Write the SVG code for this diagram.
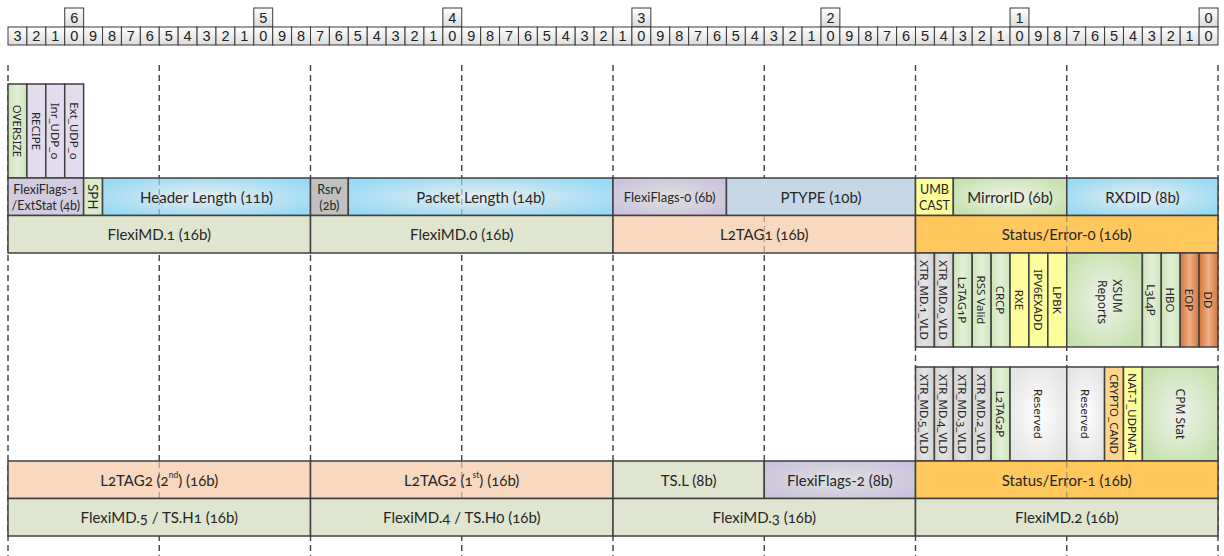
<svg xmlns="http://www.w3.org/2000/svg" width="1224" height="556" viewBox="0 0 1224 556">
<defs>
<linearGradient id="gRuler" x1="0" y1="0" x2="0" y2="1"><stop offset="0" stop-color="#ffffff"/><stop offset="1" stop-color="#dcdcdc"/></linearGradient>
<radialGradient id="gBlue" cx="0.5" cy="0.5" r="0.6"><stop offset="0" stop-color="#e9edef"/><stop offset="1" stop-color="#98daf5"/></radialGradient>
<radialGradient id="gGreen" cx="0.5" cy="0.5" r="0.6"><stop offset="0" stop-color="#eef1ea"/><stop offset="1" stop-color="#c6e2ae"/></radialGradient>
<radialGradient id="gLav" cx="0.5" cy="0.5" r="0.6"><stop offset="0" stop-color="#e0e0e0"/><stop offset="1" stop-color="#cbc3dd"/></radialGradient>
<radialGradient id="gWhite" cx="0.5" cy="0.5" r="0.6"><stop offset="0" stop-color="#ffffff"/><stop offset="1" stop-color="#e4e4e4"/></radialGradient>
<linearGradient id="gBrown" x1="0" y1="0" x2="1" y2="0"><stop offset="0" stop-color="#d4743a"/><stop offset="0.5" stop-color="#f0b084"/><stop offset="1" stop-color="#d4743a"/></linearGradient>
<linearGradient id="gGrey" x1="0" y1="0" x2="1" y2="0"><stop offset="0" stop-color="#d2d2d2"/><stop offset="0.5" stop-color="#e4e4e4"/><stop offset="1" stop-color="#d2d2d2"/></linearGradient>
<linearGradient id="gGreenL" x1="0" y1="0" x2="1" y2="0"><stop offset="0" stop-color="#cde6b8"/><stop offset="0.5" stop-color="#e2efd6"/><stop offset="1" stop-color="#cde6b8"/></linearGradient>
</defs>
<style>
.rc{fill:url(#gRuler);stroke:#3a3a3a;stroke-width:1}
.rt{font-family:"Liberation Sans",Arial,sans-serif;font-size:14.5px;fill:#222;text-anchor:middle;dominant-baseline:central}
.b{stroke:#404040;stroke-width:1.5}
.t{font-family:Lato,"Noto Sans",sans-serif;font-size:15px;fill:#262626;text-anchor:middle;dominant-baseline:central;font-variant-numeric:oldstyle-nums}
.t.s{font-size:12.5px}
.t.m{font-size:13px}
.v{font-family:"Noto Sans",sans-serif;font-size:11.5px;fill:#262626;text-anchor:middle;dominant-baseline:central;font-variant-numeric:oldstyle-nums}
.v.w{font-size:12px}
.v.sph{font-size:13.5px}
.sup{font-size:8.5px}
.guide{stroke:#404040;stroke-width:1.4;stroke-dasharray:6 4;fill:none}
.ov{stroke:#6a6a6a;stroke-width:1.2;stroke-dasharray:6 4;opacity:0.55}
.green{fill:url(#gGreenL)}
.lav{fill:#e3dcef}
.yel{fill:#fdfd9c}
.grey{fill:url(#gGrey)}
.md{fill:#dfe5cf}
.l2{fill:#f8d8be}
.st{fill:#ffc75c}
</style>

<g id="ruler">
<g id="ruler-top">
<rect class="rc" x="64.72" y="8" width="18.91" height="19"/><text class="rt" x="74.17" y="17.5">6</text>
<rect class="rc" x="253.78" y="8" width="18.91" height="19"/><text class="rt" x="263.23" y="17.5">5</text>
<rect class="rc" x="442.84" y="8" width="18.91" height="19"/><text class="rt" x="452.30" y="17.5">4</text>
<rect class="rc" x="631.91" y="8" width="18.91" height="19"/><text class="rt" x="641.36" y="17.5">3</text>
<rect class="rc" x="820.97" y="8" width="18.91" height="19"/><text class="rt" x="830.42" y="17.5">2</text>
<rect class="rc" x="1010.03" y="8" width="18.91" height="19"/><text class="rt" x="1019.48" y="17.5">1</text>
<rect class="rc" x="1199.09" y="8" width="18.91" height="19"/><text class="rt" x="1208.55" y="17.5">0</text>
</g>
<g id="ruler-cells">
<rect class="rc" x="8.00" y="27" width="18.91" height="18"/><text class="rt" x="17.45" y="36">3</text>
<rect class="rc" x="26.91" y="27" width="18.91" height="18"/><text class="rt" x="36.36" y="36">2</text>
<rect class="rc" x="45.81" y="27" width="18.91" height="18"/><text class="rt" x="55.27" y="36">1</text>
<rect class="rc" x="64.72" y="27" width="18.91" height="18"/><text class="rt" x="74.17" y="36">0</text>
<rect class="rc" x="83.63" y="27" width="18.91" height="18"/><text class="rt" x="93.08" y="36">9</text>
<rect class="rc" x="102.53" y="27" width="18.91" height="18"/><text class="rt" x="111.98" y="36">8</text>
<rect class="rc" x="121.44" y="27" width="18.91" height="18"/><text class="rt" x="130.89" y="36">7</text>
<rect class="rc" x="140.34" y="27" width="18.91" height="18"/><text class="rt" x="149.80" y="36">6</text>
<rect class="rc" x="159.25" y="27" width="18.91" height="18"/><text class="rt" x="168.70" y="36">5</text>
<rect class="rc" x="178.16" y="27" width="18.91" height="18"/><text class="rt" x="187.61" y="36">4</text>
<rect class="rc" x="197.06" y="27" width="18.91" height="18"/><text class="rt" x="206.52" y="36">3</text>
<rect class="rc" x="215.97" y="27" width="18.91" height="18"/><text class="rt" x="225.42" y="36">2</text>
<rect class="rc" x="234.88" y="27" width="18.91" height="18"/><text class="rt" x="244.33" y="36">1</text>
<rect class="rc" x="253.78" y="27" width="18.91" height="18"/><text class="rt" x="263.23" y="36">0</text>
<rect class="rc" x="272.69" y="27" width="18.91" height="18"/><text class="rt" x="282.14" y="36">9</text>
<rect class="rc" x="291.59" y="27" width="18.91" height="18"/><text class="rt" x="301.05" y="36">8</text>
<rect class="rc" x="310.50" y="27" width="18.91" height="18"/><text class="rt" x="319.95" y="36">7</text>
<rect class="rc" x="329.41" y="27" width="18.91" height="18"/><text class="rt" x="338.86" y="36">6</text>
<rect class="rc" x="348.31" y="27" width="18.91" height="18"/><text class="rt" x="357.77" y="36">5</text>
<rect class="rc" x="367.22" y="27" width="18.91" height="18"/><text class="rt" x="376.67" y="36">4</text>
<rect class="rc" x="386.13" y="27" width="18.91" height="18"/><text class="rt" x="395.58" y="36">3</text>
<rect class="rc" x="405.03" y="27" width="18.91" height="18"/><text class="rt" x="414.48" y="36">2</text>
<rect class="rc" x="423.94" y="27" width="18.91" height="18"/><text class="rt" x="433.39" y="36">1</text>
<rect class="rc" x="442.84" y="27" width="18.91" height="18"/><text class="rt" x="452.30" y="36">0</text>
<rect class="rc" x="461.75" y="27" width="18.91" height="18"/><text class="rt" x="471.20" y="36">9</text>
<rect class="rc" x="480.66" y="27" width="18.91" height="18"/><text class="rt" x="490.11" y="36">8</text>
<rect class="rc" x="499.56" y="27" width="18.91" height="18"/><text class="rt" x="509.02" y="36">7</text>
<rect class="rc" x="518.47" y="27" width="18.91" height="18"/><text class="rt" x="527.92" y="36">6</text>
<rect class="rc" x="537.38" y="27" width="18.91" height="18"/><text class="rt" x="546.83" y="36">5</text>
<rect class="rc" x="556.28" y="27" width="18.91" height="18"/><text class="rt" x="565.73" y="36">4</text>
<rect class="rc" x="575.19" y="27" width="18.91" height="18"/><text class="rt" x="584.64" y="36">3</text>
<rect class="rc" x="594.09" y="27" width="18.91" height="18"/><text class="rt" x="603.55" y="36">2</text>
<rect class="rc" x="613.00" y="27" width="18.91" height="18"/><text class="rt" x="622.45" y="36">1</text>
<rect class="rc" x="631.91" y="27" width="18.91" height="18"/><text class="rt" x="641.36" y="36">0</text>
<rect class="rc" x="650.81" y="27" width="18.91" height="18"/><text class="rt" x="660.27" y="36">9</text>
<rect class="rc" x="669.72" y="27" width="18.91" height="18"/><text class="rt" x="679.17" y="36">8</text>
<rect class="rc" x="688.63" y="27" width="18.91" height="18"/><text class="rt" x="698.08" y="36">7</text>
<rect class="rc" x="707.53" y="27" width="18.91" height="18"/><text class="rt" x="716.98" y="36">6</text>
<rect class="rc" x="726.44" y="27" width="18.91" height="18"/><text class="rt" x="735.89" y="36">5</text>
<rect class="rc" x="745.34" y="27" width="18.91" height="18"/><text class="rt" x="754.80" y="36">4</text>
<rect class="rc" x="764.25" y="27" width="18.91" height="18"/><text class="rt" x="773.70" y="36">3</text>
<rect class="rc" x="783.16" y="27" width="18.91" height="18"/><text class="rt" x="792.61" y="36">2</text>
<rect class="rc" x="802.06" y="27" width="18.91" height="18"/><text class="rt" x="811.52" y="36">1</text>
<rect class="rc" x="820.97" y="27" width="18.91" height="18"/><text class="rt" x="830.42" y="36">0</text>
<rect class="rc" x="839.88" y="27" width="18.91" height="18"/><text class="rt" x="849.33" y="36">9</text>
<rect class="rc" x="858.78" y="27" width="18.91" height="18"/><text class="rt" x="868.23" y="36">8</text>
<rect class="rc" x="877.69" y="27" width="18.91" height="18"/><text class="rt" x="887.14" y="36">7</text>
<rect class="rc" x="896.59" y="27" width="18.91" height="18"/><text class="rt" x="906.05" y="36">6</text>
<rect class="rc" x="915.50" y="27" width="18.91" height="18"/><text class="rt" x="924.95" y="36">5</text>
<rect class="rc" x="934.41" y="27" width="18.91" height="18"/><text class="rt" x="943.86" y="36">4</text>
<rect class="rc" x="953.31" y="27" width="18.91" height="18"/><text class="rt" x="962.77" y="36">3</text>
<rect class="rc" x="972.22" y="27" width="18.91" height="18"/><text class="rt" x="981.67" y="36">2</text>
<rect class="rc" x="991.13" y="27" width="18.91" height="18"/><text class="rt" x="1000.58" y="36">1</text>
<rect class="rc" x="1010.03" y="27" width="18.91" height="18"/><text class="rt" x="1019.48" y="36">0</text>
<rect class="rc" x="1028.94" y="27" width="18.91" height="18"/><text class="rt" x="1038.39" y="36">9</text>
<rect class="rc" x="1047.84" y="27" width="18.91" height="18"/><text class="rt" x="1057.30" y="36">8</text>
<rect class="rc" x="1066.75" y="27" width="18.91" height="18"/><text class="rt" x="1076.20" y="36">7</text>
<rect class="rc" x="1085.66" y="27" width="18.91" height="18"/><text class="rt" x="1095.11" y="36">6</text>
<rect class="rc" x="1104.56" y="27" width="18.91" height="18"/><text class="rt" x="1114.02" y="36">5</text>
<rect class="rc" x="1123.47" y="27" width="18.91" height="18"/><text class="rt" x="1132.92" y="36">4</text>
<rect class="rc" x="1142.38" y="27" width="18.91" height="18"/><text class="rt" x="1151.83" y="36">3</text>
<rect class="rc" x="1161.28" y="27" width="18.91" height="18"/><text class="rt" x="1170.73" y="36">2</text>
<rect class="rc" x="1180.19" y="27" width="18.91" height="18"/><text class="rt" x="1189.64" y="36">1</text>
<rect class="rc" x="1199.09" y="27" width="18.91" height="18"/><text class="rt" x="1208.55" y="36">0</text>
</g>
</g>

<g id="guides">
<line class="guide" x1="8" y1="65" x2="8" y2="556"/>
<line class="guide" x1="159.25" y1="65" x2="159.25" y2="556"/>
<line class="guide" x1="310.5" y1="65" x2="310.5" y2="556"/>
<line class="guide" x1="461.75" y1="65" x2="461.75" y2="556"/>
<line class="guide" x1="613" y1="65" x2="613" y2="556"/>
<line class="guide" x1="764.25" y1="65" x2="764.25" y2="556"/>
<line class="guide" x1="915.5" y1="65" x2="915.5" y2="556"/>
<line class="guide" x1="1066.75" y1="65" x2="1066.75" y2="556"/>
<line class="guide" x1="1218" y1="65" x2="1218" y2="556"/>
</g>

<!-- top-left flag bits -->
<g id="oversize"><rect class="b green" x="8" y="84" width="18.91" height="94"/><text class="v" transform="translate(17.45,131) rotate(90)">OVERSIZE</text></g>
<g id="recipe"><rect class="b lav" x="26.91" y="84" width="18.91" height="94"/><text class="v" transform="translate(36.36,131) rotate(90)">RECIPE</text></g>
<g id="inr-udp"><rect class="b lav" x="45.81" y="84" width="18.91" height="94"/><text class="v" transform="translate(55.27,131) rotate(90)">Inr_UDP_o</text></g>
<g id="ext-udp"><rect class="b lav" x="64.72" y="84" width="18.91" height="94"/><text class="v" transform="translate(74.17,131) rotate(90)">Ext_UDP_o</text></g>

<!-- row A -->
<g id="flexiflags1"><rect class="b" fill="#d3cce0" x="8" y="178" width="75.63" height="37.5"/><text class="t s" x="45.8" y="189.5">FlexiFlags-1</text><text class="t s" x="45.8" y="205">/ExtStat (4b)</text></g>
<g id="sph"><rect class="b" fill="#dcecca" x="83.63" y="178" width="18.91" height="37.5"/><text class="v sph" transform="translate(93.08,196.75) rotate(90)">SPH</text></g>
<g id="header-length"><rect class="b" fill="url(#gBlue)" x="102.53" y="178" width="207.97" height="37.5"/><text class="t" x="206.5" y="196.75">Header Length (11b)</text></g>
<g id="rsrv"><rect class="b" fill="#c0c0c0" x="310.5" y="178" width="37.81" height="37.5"/><text class="t s" x="329.4" y="189.5">Rsrv</text><text class="t s" x="329.4" y="205">(2b)</text></g>
<g id="packet-length"><rect class="b" fill="url(#gBlue)" x="348.31" y="178" width="264.69" height="37.5"/><text class="t" x="480.65" y="196.75">Packet Length (14b)</text></g>
<g id="flexiflags0"><rect class="b" fill="url(#gLav)" x="613" y="178" width="113.44" height="37.5"/><text class="t m" x="669.7" y="196.75">FlexiFlags-0 (6b)</text></g>
<g id="ptype"><rect class="b" fill="#c6d7e8" x="726.44" y="178" width="189.06" height="37.5"/><text class="t" x="820.95" y="196.75">PTYPE (10b)</text></g>
<g id="umbcast"><rect class="b yel" x="915.5" y="178" width="37.81" height="37.5"/><text class="t s" x="934.4" y="189.5">UMB</text><text class="t s" x="934.4" y="205">CAST</text></g>
<g id="mirrorid"><rect class="b" fill="url(#gGreen)" x="953.31" y="178" width="113.44" height="37.5"/><text class="t" x="1010" y="196.75">MirrorID (6b)</text></g>
<g id="rxdid"><rect class="b" fill="url(#gBlue)" x="1066.75" y="178" width="151.25" height="37.5"/><text class="t" x="1142.4" y="196.75">RXDID (8b)</text></g>

<!-- row B -->
<g id="flexi-md1"><rect class="b md" x="8" y="215.5" width="302.5" height="37.5"/><text class="t" x="159.25" y="234.25">FlexiMD.1 (16b)</text></g>
<g id="flexi-md0"><rect class="b md" x="310.5" y="215.5" width="302.5" height="37.5"/><text class="t" x="461.75" y="234.25">FlexiMD.0 (16b)</text></g>
<g id="l2tag1"><rect class="b l2" x="613" y="215.5" width="302.5" height="37.5"/><text class="t" x="764.25" y="234.25">L2TAG1 (16b)</text></g>
<g id="status-error0"><rect class="b st" x="915.5" y="215.5" width="302.5" height="37.5"/><text class="t" x="1066.75" y="234.25">Status/Error-0 (16b)</text></g>

<!-- status-0 bits -->
<g id="s0-xtr1"><rect class="b grey" x="915.5" y="253" width="18.91" height="94"/><text class="v" transform="translate(924.95,300) rotate(90)">XTR_MD.1_VLD</text></g>
<g id="s0-xtr0"><rect class="b grey" x="934.41" y="253" width="18.91" height="94"/><text class="v" transform="translate(943.86,300) rotate(90)">XTR_MD.0_VLD</text></g>
<g id="s0-l2tag1p"><rect class="b green" x="953.31" y="253" width="18.91" height="94"/><text class="v" transform="translate(962.77,300) rotate(90)">L2TAG1P</text></g>
<g id="s0-rss"><rect class="b green" x="972.22" y="253" width="18.91" height="94"/><text class="v" transform="translate(981.67,300) rotate(90)">RSS Valid</text></g>
<g id="s0-crcp"><rect class="b green" x="991.13" y="253" width="18.91" height="94"/><text class="v" transform="translate(1000.58,300) rotate(90)">CRCP</text></g>
<g id="s0-rxe"><rect class="b yel" x="1010.03" y="253" width="18.91" height="94"/><text class="v" transform="translate(1019.48,300) rotate(90)">RXE</text></g>
<g id="s0-ipv6"><rect class="b yel" x="1028.94" y="253" width="18.91" height="94"/><text class="v" transform="translate(1038.39,300) rotate(90)">IPV6EXADD</text></g>
<g id="s0-lpbk"><rect class="b yel" x="1047.84" y="253" width="18.91" height="94"/><text class="v" transform="translate(1057.3,300) rotate(90)">LPBK</text></g>
<g id="s0-xsum"><rect class="b" fill="url(#gGreen)" x="1066.75" y="253" width="75.63" height="94"/><text class="v w" transform="translate(1117,296) rotate(90)">XSUM</text><text class="v w" transform="translate(1102,302) rotate(90)">Reports</text></g>
<g id="s0-l3l4p"><rect class="b green" x="1142.38" y="253" width="18.91" height="94"/><text class="v" transform="translate(1151.83,300) rotate(90)">L3L4P</text></g>
<g id="s0-hbo"><rect class="b green" x="1161.28" y="253" width="18.91" height="94"/><text class="v" transform="translate(1170.73,300) rotate(90)">HBO</text></g>
<g id="s0-eop"><rect class="b" fill="url(#gBrown)" x="1180.19" y="253" width="18.91" height="94"/><text class="v" transform="translate(1189.64,300) rotate(90)">EOP</text></g>
<g id="s0-dd"><rect class="b" fill="url(#gBrown)" x="1199.09" y="253" width="18.91" height="94"/><text class="v" transform="translate(1208.55,300) rotate(90)">DD</text></g>

<!-- status-1 bits -->
<g id="s1-xtr5"><rect class="b grey" x="915.5" y="367" width="18.91" height="94"/><text class="v" transform="translate(924.95,414) rotate(90)">XTR_MD.5_VLD</text></g>
<g id="s1-xtr4"><rect class="b grey" x="934.41" y="367" width="18.91" height="94"/><text class="v" transform="translate(943.86,414) rotate(90)">XTR_MD.4_VLD</text></g>
<g id="s1-xtr3"><rect class="b grey" x="953.31" y="367" width="18.91" height="94"/><text class="v" transform="translate(962.77,414) rotate(90)">XTR_MD.3_VLD</text></g>
<g id="s1-xtr2"><rect class="b grey" x="972.22" y="367" width="18.91" height="94"/><text class="v" transform="translate(981.67,414) rotate(90)">XTR_MD.2_VLD</text></g>
<g id="s1-l2tag2p"><rect class="b green" x="991.13" y="367" width="18.91" height="94"/><text class="v" transform="translate(1000.58,414) rotate(90)">L2TAG2P</text></g>
<g id="s1-reserved-a"><rect class="b" fill="url(#gWhite)" x="1010.03" y="367" width="56.72" height="94"/><text class="v" transform="translate(1038.39,414) rotate(90)">Reserved</text></g>
<g id="s1-reserved-b"><rect class="b" fill="url(#gWhite)" x="1066.75" y="367" width="37.81" height="94"/><text class="v" transform="translate(1085.66,414) rotate(90)">Reserved</text></g>
<g id="s1-crypto"><rect class="b" fill="#fdd58c" x="1104.56" y="367" width="18.91" height="94"/><text class="v" transform="translate(1114.02,414) rotate(90)">CRYPTO_CAND</text></g>
<g id="s1-natt"><rect class="b yel" x="1123.47" y="367" width="18.91" height="94"/><text class="v" transform="translate(1132.92,414) rotate(90)">NAT-T_UDPNAT</text></g>
<g id="s1-cpm"><rect class="b" fill="url(#gGreen)" x="1142.38" y="367" width="75.62" height="94"/><text class="v w" transform="translate(1180.2,414) rotate(90)">CPM Stat</text></g>

<!-- row C -->
<g id="l2tag2-2nd"><rect class="b l2" x="8" y="461" width="302.5" height="37.5"/><text class="t" x="159.25" y="479.75">L2TAG2 (2<tspan class="sup" dy="-5">nd</tspan><tspan dy="5">) (16b)</tspan></text></g>
<g id="l2tag2-1st"><rect class="b l2" x="310.5" y="461" width="302.5" height="37.5"/><text class="t" x="461.75" y="479.75">L2TAG2 (1<tspan class="sup" dy="-5">st</tspan><tspan dy="5">) (16b)</tspan></text></g>
<g id="ts-l"><rect class="b md" x="613" y="461" width="151.25" height="37.5"/><text class="t" x="688.6" y="479.75">TS.L (8b)</text></g>
<g id="flexiflags2"><rect class="b" fill="url(#gLav)" x="764.25" y="461" width="151.25" height="37.5"/><text class="t" x="839.9" y="479.75">FlexiFlags-2 (8b)</text></g>
<g id="status-error1"><rect class="b st" x="915.5" y="461" width="302.5" height="37.5"/><text class="t" x="1066.75" y="479.75">Status/Error-1 (16b)</text></g>

<!-- row D -->
<g id="flexi-md5"><rect class="b md" x="8" y="498.5" width="302.5" height="37.5"/><text class="t" x="159.25" y="517.25">FlexiMD.5 / TS.H1 (16b)</text></g>
<g id="flexi-md4"><rect class="b md" x="310.5" y="498.5" width="302.5" height="37.5"/><text class="t" x="461.75" y="517.25">FlexiMD.4 / TS.H0 (16b)</text></g>
<g id="flexi-md3"><rect class="b md" x="613" y="498.5" width="302.5" height="37.5"/><text class="t" x="764.25" y="517.25">FlexiMD.3 (16b)</text></g>
<g id="flexi-md2"><rect class="b md" x="915.5" y="498.5" width="302.5" height="37.5"/><text class="t" x="1066.75" y="517.25">FlexiMD.2 (16b)</text></g>

<g id="guide-overlay">
<line class="ov" x1="159.25" y1="179" x2="159.25" y2="215"/>
<line class="ov" x1="461.75" y1="179" x2="461.75" y2="215"/>
<line class="ov" x1="764.25" y1="216" x2="764.25" y2="252"/>
<line class="ov" x1="1066.75" y1="216" x2="1066.75" y2="252"/>
<line class="ov" x1="1066.75" y1="462" x2="1066.75" y2="498"/>
<line class="ov" x1="159.25" y1="462" x2="159.25" y2="498"/>
<line class="ov" x1="461.75" y1="462" x2="461.75" y2="498"/>
</g>
</svg>
